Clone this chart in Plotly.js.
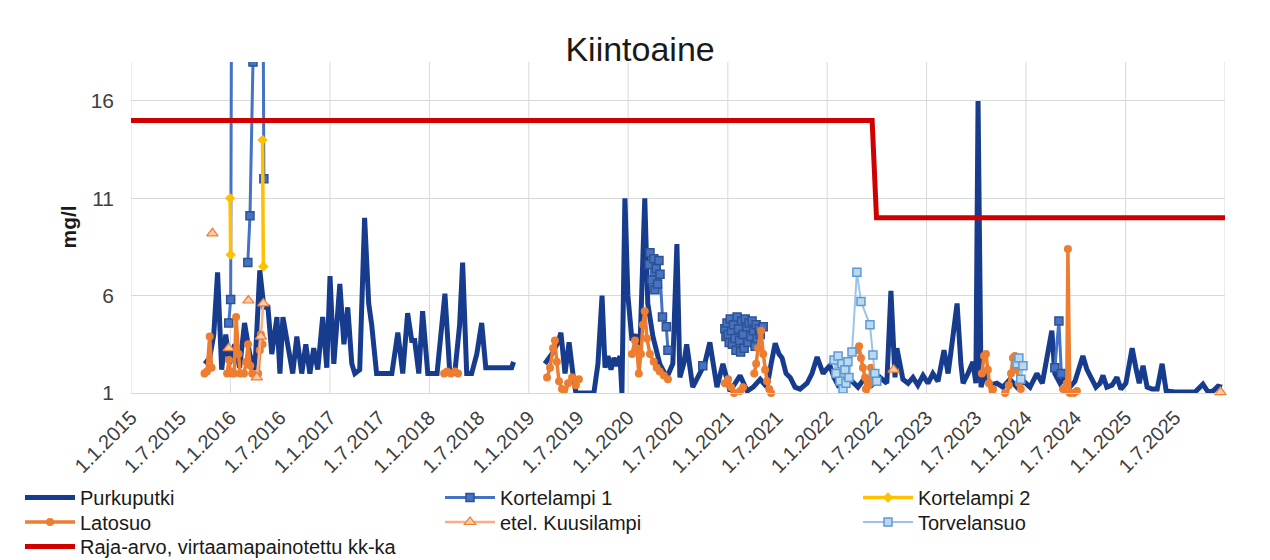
<!DOCTYPE html>
<html><head><meta charset="utf-8">
<script src="https://cdn.plot.ly/plotly-3.0.1.min.js"></script>
<style>html,body{margin:0;padding:0;background:#fff}#chart{width:1270px;height:560px}</style>
</head><body><div id="chart"></div>
<script>
// ---- Data ----
const purkuputkiDates = [
'2015-09-29','2015-10-17','2015-11-01','2015-11-15','2015-11-30','2015-12-15','2015-12-29',
'2016-01-17','2016-02-04','2016-02-22','2016-03-12','2016-03-31','2016-04-18','2016-05-03','2016-05-18','2016-06-01','2016-06-20','2016-07-01','2016-07-12','2016-07-30','2016-08-17','2016-09-01','2016-09-19','2016-10-04','2016-10-19','2016-11-02','2016-11-17','2016-12-05','2016-12-20',
'2017-01-01','2017-01-15','2017-02-06','2017-02-21','2017-03-07','2017-03-22','2017-04-02','2017-04-20','2017-05-08','2017-05-23','2017-06-03','2017-06-21','2017-07-21','2017-08-16','2017-09-07','2017-09-25','2017-10-13','2017-10-28','2017-11-08','2017-11-23','2017-12-07','2017-12-26',
'2018-01-14','2018-01-29','2018-02-27','2018-03-17','2018-04-04','2018-04-22','2018-05-03','2018-05-18','2018-06-05','2018-06-24','2018-07-12','2018-07-27','2018-08-29','2018-10-04','2018-10-30','2018-11-06',
'2018-12-15',
'2019-03-01','2019-03-27','2019-04-18','2019-04-29','2019-05-14','2019-05-29','2019-06-12','2019-06-23','2019-07-26','2019-08-28','2019-09-12','2019-09-27','2019-10-08','2019-10-19','2019-10-30','2019-11-10','2019-11-21','2019-12-02','2019-12-09','2019-12-20','2019-12-31',
'2020-01-15','2020-01-29','2020-02-13','2020-03-02','2020-03-13','2020-04-01','2020-04-15','2020-04-26','2020-05-22','2020-06-13','2020-06-28','2020-07-09','2020-07-23','2020-08-03','2020-08-25','2020-09-20','2020-10-08','2020-10-27','2020-11-22','2020-12-14',
'2021-01-09','2021-01-28','2021-02-15','2021-03-13','2021-04-04','2021-04-30','2021-05-25','2021-06-09','2021-06-24','2021-07-08','2021-07-19','2021-08-03','2021-08-18','2021-09-05','2021-09-23','2021-10-19','2021-11-06','2021-11-25','2021-12-17','2021-12-28',
'2022-01-11','2022-01-26','2022-02-10','2022-03-07','2022-04-02','2022-04-24','2022-05-20','2022-06-14','2022-07-14','2022-08-08','2022-08-23','2022-09-07','2022-09-14','2022-10-06','2022-10-25','2022-11-12','2022-11-30','2022-12-19',
'2023-01-06','2023-01-24','2023-02-12','2023-03-06','2023-03-21','2023-04-04','2023-04-23','2023-05-07','2023-05-15','2023-06-02','2023-06-20','2023-07-01','2023-07-09','2023-07-20','2023-08-03','2023-08-22','2023-09-16','2023-10-08','2023-11-03','2023-11-29','2023-12-24',
'2024-01-16','2024-02-10','2024-03-01','2024-03-22','2024-04-05','2024-04-16','2024-05-05','2024-05-23','2024-06-10','2024-06-29','2024-07-14','2024-07-28','2024-08-12','2024-08-27','2024-09-14','2024-09-29','2024-10-10','2024-10-24','2024-11-12','2024-11-30','2024-12-15',
'2025-01-02','2025-01-25','2025-02-09','2025-02-20','2025-03-06','2025-03-21','2025-04-08','2025-04-27','2025-05-15','2025-05-30','2025-07-02','2025-08-07','2025-09-13','2025-10-12','2025-10-31','2025-11-18','2025-12-06','2025-12-21'
];
const purkuputkiValues = [
2.5,2.8,4.0,7.2,2.2,4.0,2.5,
3.5,2.3,4.6,3.0,2.2,7.3,5.4,5.4,3.0,4.9,2.0,4.9,3.4,2.0,3.9,2.0,3.5,2.0,3.3,2.2,4.9,2.3,
7.0,2.5,6.6,3.5,5.4,2.5,2.0,2.2,10.0,5.6,4.5,2.0,2.0,2.0,4.1,2.0,5.1,3.7,3.7,2.0,5.2,2.0,
2.0,2.0,6.1,2.0,2.0,4.5,7.7,2.0,2.0,3.0,4.6,2.3,2.3,2.3,2.3,2.6,
null,
2.5,3.0,3.6,4.1,2.0,3.6,2.0,1.0,1.0,1.0,2.5,6.0,2.3,2.9,2.2,2.8,2.4,2.9,1.0,11.0,6.0,
3.7,4.0,3.2,11.0,5.6,3.9,3.0,2.5,1.8,2.5,8.65,1.8,2.5,3.5,1.3,2.1,2.5,3.6,1.3,2.5,
1.1,1.5,1.9,1.1,1.3,1.7,1.3,2.5,3.55,3.0,2.8,2.0,1.8,1.3,1.2,1.5,2.0,2.85,2.0,2.2,
2.4,1.8,1.4,1.6,1.6,1.3,1.8,1.4,1.8,1.5,6.25,1.8,3.3,1.7,1.5,1.8,1.4,1.9,
1.5,2.0,1.6,3.2,2.0,3.5,5.6,2.5,1.5,2.0,2.6,1.5,16.0,1.3,2.0,1.4,1.5,1.3,1.7,1.3,1.6,
1.3,2.0,1.5,3.2,4.2,2.0,1.5,1.8,1.3,1.6,2.2,2.9,2.2,1.8,1.3,1.5,1.9,1.3,1.4,1.8,1.2,
1.5,3.3,2.2,1.5,2.4,1.3,1.2,1.2,2.5,1.1,1.05,1.05,1.05,1.45,1.05,1.1,1.35,1.3
];

// values above 18 run off the top of the scale; 25 stands for "off scale"
const kortelampi1Dates = [
'2015-12-26','2016-01-02','2016-01-06','2016-02-01',
'2016-03-05','2016-03-13','2016-03-24','2016-04-29','2016-05-03','2016-06-01',
'2020-03-18','2020-03-21','2020-03-28','2020-04-04','2020-04-08','2020-04-13','2020-04-18','2020-04-23','2020-04-27','2020-05-06','2020-05-20','2020-05-26','2020-07-01',
'2020-10-01','2020-11-01',
'2020-12-21','2020-12-25','2020-12-29','2021-01-02','2021-01-06','2021-01-10','2021-01-14','2021-01-18','2021-01-22','2021-01-27','2021-01-31','2021-02-04','2021-02-09','2021-02-13','2021-02-17','2021-02-21','2021-02-26','2021-03-02','2021-03-06','2021-03-12','2021-03-16','2021-03-20','2021-03-26','2021-03-31','2021-04-06','2021-04-11','2021-04-15','2021-04-19','2021-04-26','2021-04-30','2021-05-11','2021-06-01',
'2024-04-16','2024-05-01','2024-05-10'
];
const kortelampi1Values = [
4.6,5.8,25,null,
7.7,10.1,18.0,25,12.0,null,
7.6,8.2,6.8,7.9,6.3,7.4,6.6,7.8,7.1,4.9,4.4,3.2,null,
2.4,null,
4.3,3.9,4.6,4.0,3.6,4.8,4.2,3.5,4.5,3.8,3.2,4.9,4.3,3.7,3.1,4.7,4.0,3.3,4.8,4.4,3.6,4.6,3.9,4.7,4.2,3.4,4.5,3.8,4.3,4.0,4.4,null,
2.3,4.7,2.0
];

const kortelampi2Dates = ['2015-12-31','2016-01-02','2016-02-01','2016-04-28','2016-05-01'];
const kortelampi2Values = [11.0,8.1,null,14.0,7.5];

const latosuoDates = [
'2015-09-28','2015-10-07','2015-10-17','2015-10-24','2015-11-10',
'2015-12-20','2015-12-27','2015-12-31','2016-01-06','2016-01-15','2016-01-22','2016-01-31','2016-02-06','2016-02-15',
'2016-02-20','2016-02-28','2016-03-06','2016-03-14','2016-03-21','2016-04-01','2016-04-05',
'2016-04-12','2016-04-18','2016-04-22','2016-04-28',
'2016-06-01',
'2018-02-24','2018-03-07','2018-03-21','2018-04-05','2018-04-16','2018-06-01',
'2019-03-09','2019-03-20','2019-03-31','2019-04-07','2019-04-14','2019-04-22','2019-05-03','2019-05-14','2019-05-25','2019-06-09','2019-06-23','2019-07-04','2019-08-01',
'2020-01-15','2020-01-26','2020-02-02','2020-02-09','2020-02-17','2020-02-24','2020-03-02','2020-03-10','2020-03-21','2020-04-04','2020-04-15','2020-04-26','2020-05-11','2020-05-26','2020-07-01',
'2020-12-21','2021-01-02','2021-01-13','2021-01-24','2021-02-04','2021-02-15','2021-02-26','2021-03-15',
'2021-04-08','2021-04-15','2021-04-22','2021-05-03','2021-05-11','2021-05-18','2021-05-25','2021-06-02','2021-06-09','2021-07-01',
'2022-04-20','2022-04-28','2022-05-05','2022-05-12','2022-05-20','2022-05-23','2022-05-27','2022-06-03','2022-06-11','2022-06-18','2022-07-05',
'2023-07-23','2023-07-31','2023-08-07','2023-08-14','2023-08-18','2023-08-25','2023-09-02','2023-09-09','2023-10-01',
'2023-10-16','2023-10-23','2023-10-30','2023-11-07','2023-11-14','2023-11-21','2023-11-29','2023-12-06','2023-12-13','2024-01-05',
'2024-05-16','2024-05-23','2024-05-30','2024-06-03','2024-06-10','2024-06-18','2024-06-25','2024-07-06'
];
const latosuoValues = [
2.0,2.1,3.9,2.3,null,
2.0,2.7,2.1,2.0,2.0,4.9,3.0,2.0,null,
2.0,2.6,3.5,2.4,2.0,1.9,null,
2.0,3.2,4.0,3.5,
null,
2.0,2.1,2.0,2.1,2.0,null,
1.8,2.3,3.3,3.7,2.6,1.6,1.2,0.85,1.5,1.8,1.4,1.7,null,
3.0,3.7,3.3,2.0,3.0,4.5,5.2,3.8,3.0,2.6,2.3,2.1,1.9,1.7,null,
1.5,1.7,1.3,1.0,0.85,1.1,1.3,null,
2.0,2.5,3.3,4.2,3.0,2.2,1.6,1.2,1.0,null,
3.2,3.4,2.8,2.3,1.8,1.2,0.85,1.4,2.3,1.6,null,
2.0,2.9,3.0,2.2,1.5,0.9,1.2,0.85,null,
1.0,0.85,1.4,2.0,2.8,2.9,2.2,1.5,1.2,null,
1.2,0.9,1.5,8.4,1.0,0.85,1.0,1.1
];

const kuusilampiDates = ['2015-10-27','2015-12-01','2015-12-26','2016-02-01','2016-03-07','2016-03-20','2016-04-07','2016-04-22','2016-05-01','2016-06-01','2022-09-02','2022-10-01','2025-12-15'];
const kuusilampiValues = [9.2,null,3.3,null,5.75,null,1.8,3.9,5.6,null,2.2,null,1.05];

const torvelansuoDates = [
'2022-01-26','2022-02-02','2022-02-10','2022-02-17','2022-02-24','2022-02-28','2022-03-07','2022-03-11','2022-03-18','2022-03-22','2022-04-02','2022-04-20','2022-05-05','2022-06-07','2022-06-18','2022-06-25','2022-07-02','2022-08-01',
'2023-11-29','2023-12-06','2023-12-13','2023-12-21'
];
const torvelansuoValues = [
2.7,2.0,2.9,1.6,2.5,1.2,2.2,1.5,2.6,1.8,3.1,7.2,5.7,4.5,2.95,2.0,1.6,null,
2.5,2.8,1.7,2.4
];

const rajaDates = ['2015-01-01','2022-06-15','2022-07-01','2026-01-01'];
const rajaValues = [15,15,10,10];

const tickDates = ['2015-01-01','2015-07-01','2016-01-01','2016-07-01','2017-01-01','2017-07-01','2018-01-01','2018-07-01','2019-01-01','2019-07-01','2020-01-01','2020-07-01','2021-01-01','2021-07-01','2022-01-01','2022-07-01','2023-01-01','2023-07-01','2024-01-01','2024-07-01','2025-01-01','2025-07-01'];
const tickLabels = ['1.1.2015','1.7.2015','1.1.2016','1.7.2016','1.1.2017','1.7.2017','1.1.2018','1.7.2018','1.1.2019','1.7.2019','1.1.2020','1.7.2020','1.1.2021','1.7.2021','1.1.2022','1.7.2022','1.1.2023','1.7.2023','1.1.2024','1.7.2024','1.1.2025','1.7.2025'];
const gridDates = ['2015-01-01','2016-01-01','2017-01-01','2018-01-01','2019-01-01','2020-01-01','2021-01-01','2022-01-01','2023-01-01','2024-01-01','2025-01-01','2026-01-01'];
const yTicks = [1,6,11,16];
const yAxisTitle = 'mg/l';

// ---- Chart ----
const FONT = 'Liberation Sans, Arial, sans-serif';
const traces = [
  {name:'Purkuputki', legend:'legend', x:purkuputkiDates, y:purkuputkiValues, mode:'lines', connectgaps:false,
   line:{color:'#173C8E', width:5}},
  {name:'Kortelampi 1', legend:'legend2', x:kortelampi1Dates, y:kortelampi1Values, mode:'lines+markers', connectgaps:false,
   line:{color:'#4472C4', width:3}, marker:{symbol:'square', size:8, color:'#4472C4', line:{color:'#2F528F', width:1.5}}},
  {name:'Kortelampi 2', legend:'legend3', x:kortelampi2Dates, y:kortelampi2Values, mode:'lines+markers', connectgaps:false,
   line:{color:'#FFC000', width:3.5}, marker:{symbol:'diamond', size:8, color:'#FFC000'}},
  {name:'Latosuo', legend:'legend4', x:latosuoDates, y:latosuoValues, mode:'lines+markers', connectgaps:false, cliponaxis:false,
   line:{color:'#ED7D31', width:3.5}, marker:{symbol:'circle', size:8, color:'#ED7D31'}},
  {name:'etel. Kuusilampi', legend:'legend5', x:kuusilampiDates, y:kuusilampiValues, mode:'lines+markers', connectgaps:false, cliponaxis:false,
   line:{color:'#F4B183', width:2.5}, marker:{symbol:'triangle-up', size:10, color:'#F8CBAD', line:{color:'#ED7D31', width:1.2}}},
  {name:'Torvelansuo', legend:'legend6', x:torvelansuoDates, y:torvelansuoValues, mode:'lines+markers', connectgaps:false,
   line:{color:'#9DC3E6', width:2}, marker:{symbol:'square', size:8, color:'#BDD7EE', line:{color:'#5B9BD5', width:1.5}}},
  {name:'Raja-arvo, virtaamapainotettu kk-ka', legend:'legend7', x:rajaDates, y:rajaValues, mode:'lines',
   line:{color:'#D00000', width:5}}
];

const shapes = gridDates.map(d => ({type:'line', xref:'x', yref:'paper', x0:d, x1:d, y0:0, y1:1,
  line:{color:'#D9D9D9', width:1}, layer:'below'}));

// legend grid: 3 columns, 3 rows (pixel anchors of each entry)
function legendAt(leftPx, topPx) {
  return {orientation:'v', xref:'container', yref:'container', x:leftPx/1270, y:1 - topPx/560, xanchor:'left', yanchor:'top',
    itemwidth:50, font:{size:20, color:'#1a1a1a', family:FONT}, bgcolor:'rgba(0,0,0,0)'};
}
const colPx = [20, 440, 858];
const rowPx = [478, 502.5, 527];

const layout = {
  width:1270, height:560,
  margin:{l:131, r:45, t:62, b:167, autoexpand:false},
  paper_bgcolor:'#ffffff', plot_bgcolor:'#ffffff',
  font:{family:FONT, color:'#262626'},
  title:{text:'Kiintoaine', font:{size:34, color:'#1a1a1a', family:FONT}, xref:'container', x:0.504, xanchor:'center', yref:'container', y:0.912, yanchor:'middle'},
  showlegend:true,
  xaxis:{type:'date', range:['2015-01-01','2026-01-01'], tickvals:tickDates, ticktext:tickLabels, tickangle:-45,
    showgrid:false, zeroline:false, showline:true, linecolor:'#D9D9D9', linewidth:1, ticks:'', ticklabelstandoff:4,
    tickfont:{size:20, color:'#404040', family:FONT}, fixedrange:true},
  yaxis:{range:[1,18], tickvals:yTicks, showgrid:true, gridcolor:'#D9D9D9', gridwidth:1, zeroline:false, showline:false,
    ticks:'', ticklabelstandoff:16, tickfont:{size:21, color:'#404040', family:FONT}, fixedrange:true},
  annotations:[{text:'<b>' + yAxisTitle + '</b>', xref:'paper', yref:'paper', x:-63/1094, y:0.5, xanchor:'center', yanchor:'middle',
    textangle:-90, showarrow:false, font:{size:21, color:'#1a1a1a', family:FONT}}],
  legend:legendAt(colPx[0], rowPx[0]),
  legend2:legendAt(colPx[1], rowPx[0]),
  legend3:legendAt(colPx[2], rowPx[0]),
  legend4:legendAt(colPx[0], rowPx[1]),
  legend5:legendAt(colPx[1], rowPx[1]),
  legend6:legendAt(colPx[2], rowPx[1]),
  legend7:legendAt(colPx[0], rowPx[2]),
  shapes:shapes
};

Plotly.newPlot('chart', traces, layout, {displayModeBar:false, staticPlot:true});
</script></body></html>
